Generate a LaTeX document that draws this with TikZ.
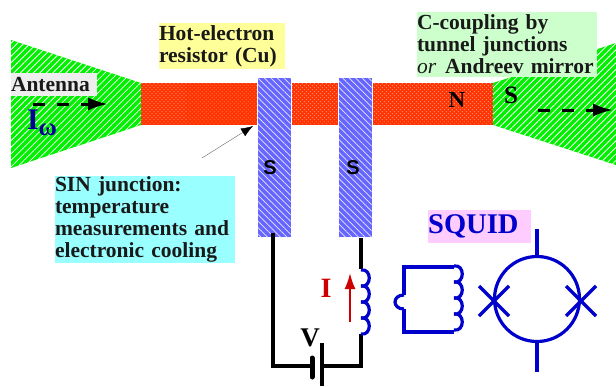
\documentclass[tikz,border=0pt]{standalone}
\usepackage{fontspec}
\setmainfont{Liberation Serif}
\setsansfont{Liberation Sans}
\usetikzlibrary{arrows.meta,patterns.meta}
\definecolor{coilblue}{HTML}{0000CC}
\definecolor{hatchgreen}{HTML}{00F000}
\definecolor{stripblue}{HTML}{6666FF}
\definecolor{metalred}{HTML}{FF3300}
\definecolor{boxyellow}{HTML}{FFFF99}
\definecolor{boxgreen}{HTML}{CCFFCC}
\definecolor{boxcyan}{HTML}{99FFFF}
\definecolor{boxpink}{HTML}{FFCCFF}
\definecolor{boxgray}{HTML}{EEEEEE}
\tikzset{
    label box/.style={anchor=north west,inner sep=0pt,outer sep=0pt,align=left,font=\fontsize{21.5}{22}\selectfont\bfseries,text=black!90},
    green metal/.style={fill=hatchgreen,postaction={pattern={Lines[angle=45,distance=4.6pt,line width=0.8pt]},pattern color=white}},
    blue metal/.style={fill=stripblue,postaction={pattern={Lines[angle=-45,distance=4.6pt,line width=0.7pt]},pattern color=white!85!stripblue}},
    red metal/.style={fill=metalred,postaction={pattern={Dots[distance=2.83pt,radius=0.5pt,angle=45]},pattern color=white}},
    wire/.style={line width=3.2pt,black},
    blue wire/.style={line width=3.2pt,coilblue},
    flow/.style={line width=3pt,dash pattern=on 12pt off 12pt,-{Latex[length=20pt,width=13pt]}},
    sletter/.style={font=\sffamily\bfseries\fontsize{20}{20}\selectfont}
}
\begin{document}
\begin{tikzpicture}[x=1pt,y=-1pt]
    \useasboundingbox (0,0) rectangle (616,386);
    %draw antenna and resistor
    \fill[green metal] (11,40) -- (141,83) -- (141,125) -- (11,168) -- cycle;
    \fill[green metal] (493,83) -- (616,43) -- (616,165) -- (493,125) -- cycle;
    \fill[red metal] (141,83) rectangle (493,125);
    %draw superconducting strips
    \foreach \x in {258,339}
        {%
            \fill[white] (\x-1,78) rectangle (\x+33.5,125);
            \fill[blue metal] (\x,78) rectangle (\x+32.5,237);
        }
    \node[sletter] (sleft) at (270,168) {S};
    \node[sletter] (sright) at (353,168) {S};
    %draw labels
    \node[label box,fill=boxyellow,text width=126pt,minimum height=46pt] (hot) at (159,23) {Hot-electron\\resistor (Cu)};
    \node[label box,fill=boxgreen,text width=180pt,minimum height=65pt] (ccoupling) at (417,12) {C-coupling by\\tunnel junctions\\\mbox{\textit{\mdseries or}\hspace{9pt}Andreev mirror}};
    \node[label box,fill=boxcyan,text width=180pt,minimum height=87pt] (sin) at (55,176) {SIN junction:\\temperature\\measurements and\\electronic cooling};
    \node[label box,fill=boxgray,text width=86pt,minimum height=23pt] (antenna) at (11,73) {Antenna};
    \node[font=\bfseries\fontsize{23}{23}\selectfont] (n) at (457,100) {N};
    \node[font=\bfseries\fontsize{25}{25}\selectfont] (sgreen) at (511,95) {S};
    \node[anchor=north west,inner sep=0pt,fill=boxpink,minimum height=33pt,text width=103pt,align=left,text=coilblue,font=\bfseries\fontsize{28.5}{28.5}\selectfont] (squid) at (428,210) {SQUID};
    \node[font=\bfseries\fontsize{30}{30}\selectfont,text=blue!60!black,inner sep=0pt] (iw) at (42,123) {I\raisebox{-6pt}{\fontsize{25}{25}\selectfont ω}};
    %draw flow arrows
    \coordinate (flowa) at (33,104);
    \coordinate (flowb) at (108,104);
    \coordinate (flowc) at (538,110);
    \coordinate (flowd) at (613,110);
    \draw[flow] (flowa) -- (flowb);
    \draw[flow] (flowc) -- (flowd);
    %draw pointer to junction
    \coordinate (sintail) at (202,158);
    \coordinate (sinhead) at (253,126);
    \draw[black!60,-{Latex[black,length=12pt,width=9pt]}] (sintail) -- (sinhead);
    %draw circuit
    \coordinate (lefttop) at (273,233);
    \coordinate (leftbot) at (273,366);
    \coordinate (batneg) at (312,366);
    \coordinate (batpos) at (322,366);
    \coordinate (rightbot) at (361,366);
    \coordinate (coilbot) at (361,334);
    \coordinate (coiltop) at (361,269);
    \coordinate (righttop) at (361,238);
    \draw[wire] (lefttop) -- (leftbot) -- (batneg);
    \draw[wire] (batpos) -- (rightbot) -- (coilbot);
    \draw[wire] (coiltop) -- (righttop);
    \draw[line width=5pt,line cap=round] (312,358) -- (312,377);
    \draw[wire] (322,343) -- (322,386);
    %draw coils
    \foreach \y in {270,286,302,318}
        {%
            \draw[blue wire] (361,\y) .. controls (372,\y-2) and (372,\y+18) .. (361,\y+16);
            \draw[blue wire] (454,\y-4) .. controls (465,\y-6) and (465,\y+14) .. (454,\y+12);
        }
    \coordinate (loopa) at (404,295);
    \coordinate (loopb) at (404,267);
    \coordinate (loopc) at (454,267);
    \coordinate (loopd) at (454,332);
    \coordinate (loope) at (404,332);
    \coordinate (loopf) at (404,309);
    \draw[blue wire] (loopa) -- (loopb) -- (loopc);
    \draw[blue wire] (loopd) -- (loope) -- (loopf);
    \draw[blue wire] (loopa) .. controls (392,295) and (392,309) .. (loopf);
    %draw squid
    \node[circle,draw=coilblue,line width=3.2pt,minimum size=85pt,inner sep=0pt] (ring) at (537,299) {};
    \coordinate (ringtop) at (537,229);
    \coordinate (ringbot) at (537,372);
    \draw[blue wire] (ringtop) -- (ring.north);
    \draw[blue wire] (ring.south) -- (ringbot);
    \foreach \x in {494,581}
        {%
            \draw[blue wire,line width=3.4pt] (\x-15,301-15) -- (\x+15,301+15);
            \draw[blue wire,line width=3.4pt] (\x-15,301+15) -- (\x+15,301-15);
        }
    %draw current and voltage
    \coordinate (ibot) at (350,322);
    \coordinate (itop) at (350,273);
    \draw[line width=2pt,red!80!black,-{Latex[length=16pt,width=11pt]}] (ibot) -- (itop);
    \node[font=\bfseries\fontsize{28}{28}\selectfont,text=red!80!black] (icur) at (326,288) {I};
    \node[font=\bfseries\fontsize{27}{27}\selectfont] (volt) at (310,338) {V};
\end{tikzpicture}
\end{document}
